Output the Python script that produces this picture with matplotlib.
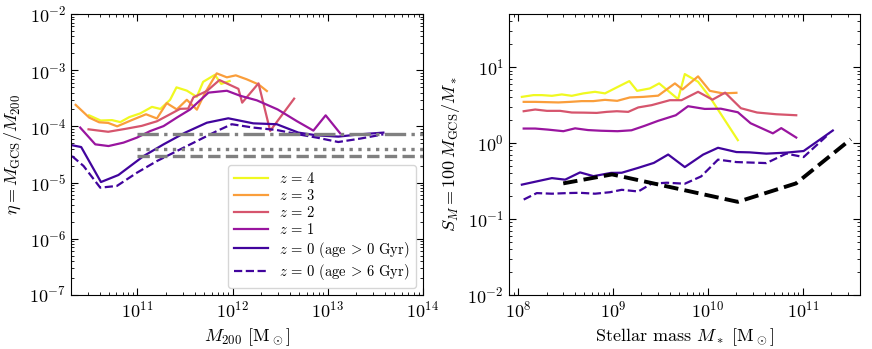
import numpy as np
import matplotlib
matplotlib.use("Agg")
import matplotlib.pyplot as plt

plt.rcParams['font.family'] = 'serif'
plt.rcParams['font.serif'] = ['cmr10']
plt.rcParams['mathtext.fontset'] = 'cm'
plt.rcParams['axes.formatter.use_mathtext'] = True
plt.rcParams['axes.unicode_minus'] = False

# ---- left panel: eta vs M200 ----
z4_m200 = [3.1e10, 4.1e10, 5.4e10, 6.6e10, 8.2e10, 1.07e11, 1.42e11, 1.74e11, 2.2e11,
           2.57e11, 3.3e11, 4.2e11, 4.9e11, 6.5e11, 7.6e11, 9.3e11]
z4_eta = [1.57e-4, 1.27e-4, 1.29e-4, 1.19e-4, 1.46e-4, 1.7e-4, 2.22e-4, 2.04e-4, 2.96e-4,
          4.94e-4, 4.32e-4, 3.35e-4, 6.2e-4, 8.25e-4, 5.7e-4, 6.4e-4]

z3_m200 = [2.24e10, 3.11e10, 3.96e10, 4.92e10, 6.12e10, 8.6e10, 1.23e11, 1.6e11, 2.03e11,
           2.59e11, 3.3e11, 4.21e11, 5.14e11, 6.8e11, 8.7e11, 1.08e12, 1.41e12, 1.87e12, 2.29e12]
z3_eta = [2.41e-4, 1.43e-4, 1.18e-4, 1.15e-4, 1.0e-4, 1.28e-4, 1.64e-4, 1.38e-4, 2.59e-4,
          2.0e-4, 2.97e-4, 1.98e-4, 3.98e-4, 8.77e-4, 7.45e-4, 8.08e-4, 6.86e-4, 5.58e-4, 4.25e-4]

z2_m200 = [3.06e10, 4.92e10, 7.42e10, 1.11e11, 1.6e11, 2.2e11, 2.81e11, 3.41e11, 3.87e11,
           5.36e11, 7.27e11, 1.15e12, 1.26e12, 1.87e12, 2.48e12, 4.43e12]
z2_eta = [8.85e-5, 8.0e-5, 9.0e-5, 1.02e-4, 1.23e-4, 1.64e-4, 2.05e-4, 2.07e-4, 3.28e-4,
          4.25e-4, 6.67e-4, 4.65e-4, 2.64e-4, 5.82e-4, 8.3e-5, 3.11e-4]

z1_m200 = [2.5e10, 3.6e10, 4.96e10, 7.13e10, 9.86e10, 1.36e11, 1.88e11, 2.59e11, 3.58e11,
           5.57e11, 8.7e11, 1.2e12, 1.8e12, 2.97e12, 4.72e12, 7.06e12, 9.5e12, 1.35e13]
z1_eta = [9.5e-5, 4.78e-5, 4.46e-5, 5.13e-5, 6.3e-5, 8.24e-5, 1.01e-4, 1.43e-4, 2.0e-4,
          3.98e-4, 4.3e-4, 3.5e-4, 2.9e-4, 2.0e-4, 1.24e-4, 8.4e-5, 1.57e-4, 7.5e-5]

z0_m200 = [2.0e10, 2.56e10, 4.13e10, 6.3e10, 1.16e11, 1.88e11, 3.17e11, 5.36e11, 9.0e11,
           1.65e12, 2.91e12, 4.91e12, 7.66e12, 1.29e13, 2.18e13, 3.84e13]
z0_eta = [4.65e-5, 4.28e-5, 1.02e-5, 1.36e-5, 2.96e-5, 4.78e-5, 7.73e-5, 1.16e-4, 1.39e-4,
          1.13e-4, 1.09e-4, 7.73e-5, 6.92e-5, 6.56e-5, 7.21e-5, 7.73e-5]

z0old_m200 = [2.05e10, 2.71e10, 4.06e10, 6.08e10, 9.9e10, 1.6e11, 2.59e11, 4.21e11, 6.82e11,
              9.8e11, 1.65e12, 2.91e12, 4.91e12, 7.66e12, 1.29e13, 2.18e13, 3.84e13]
z0old_eta = [2.96e-5, 1.97e-5, 8.1e-6, 8.7e-6, 1.5e-5, 2.41e-5, 3.63e-5, 5.47e-5, 8.24e-5,
             1.09e-4, 9.5e-5, 8.6e-5, 7.2e-5, 6.3e-5, 5.26e-5, 6.04e-5, 7.2e-5]

# reference eta levels (grey horizontal lines)
ref_eta = [7.2e-5, 4.0e-5, 3.0e-5]
ref_styles = ['-.', ':', '--']
ref_mmin, ref_mmax = 1e11, 1e14

# ---- right panel: S_M vs stellar mass ----
z4_ms = [1.1e8, 1.46e8, 1.79e8, 2.28e8, 2.9e8, 3.69e8, 4.89e8, 6.48e8, 8.26e8, 1.1e9,
         1.49e9, 1.8e9, 2.45e9, 3.07e9, 4.86e9, 5.72e9, 7.89e9, 1.05e10, 2.07e10]
z4_sm = [4.05, 4.27, 4.27, 4.18, 4.36, 4.18, 4.5, 4.72, 4.5, 5.4,
         6.53, 4.86, 5.23, 6.09, 3.78, 8.08, 6.4, 4.02, 1.09]

z3_ms = [1.15e8, 1.52e8, 2.02e8, 2.67e8, 3.54e8, 4.7e8, 6.22e8, 8.26e8, 1.11e9, 1.51e9,
         2.09e9, 3.0e9, 4.5e9, 5.41e9, 7.89e9, 1.05e10, 1.44e10, 2.0e10]
z3_sm = [3.48, 3.48, 3.45, 3.42, 3.48, 3.56, 3.56, 3.7, 3.59, 3.98,
         4.05, 4.2, 6.09, 5.07, 7.54, 4.86, 4.5, 4.58]

z2_ms = [1.15e8, 1.52e8, 2.02e8, 2.78e8, 3.69e8, 4.97e8, 6.76e8, 8.61e8, 1.1e9, 1.45e9,
         1.85e9, 2.56e9, 3.26e9, 3.98e9, 5.28e9, 7.89e9, 1.12e10, 1.52e10, 2.23e10, 3.3e10,
         5.26e10, 8.53e10]
z2_sm = [2.62, 2.76, 2.65, 2.65, 2.52, 2.51, 2.49, 2.57, 2.62, 2.57,
         2.94, 3.15, 3.42, 3.66, 3.66, 4.72, 3.72, 4.6, 2.87, 2.52,
         2.39, 2.32]

z1_ms = [1.15e8, 1.52e8, 2.08e8, 3.01e8, 4.0e8, 5.47e8, 7.5e8, 1.12e9, 1.57e9, 2.15e9,
         3.0e9, 4.6e9, 6.19e9, 9.27e9, 1.37e10, 2.07e10, 2.82e10, 4.84e10, 5.93e10, 8.53e10]
z1_sm = [1.55, 1.55, 1.5, 1.43, 1.56, 1.48, 1.45, 1.43, 1.47, 1.68,
         1.96, 2.32, 3.05, 2.81, 2.83, 2.54, 1.82, 1.34, 1.57, 1.18]

z0_ms = [1.1e8, 1.61e8, 2.28e8, 3.14e8, 4.51e8, 6.25e8, 9.55e8, 1.24e9, 1.84e9, 2.7e9,
         3.82e9, 5.72e9, 8.91e9, 1.28e10, 2.0e10, 2.75e10, 4.13e10, 6.7e10, 1.02e11, 2.07e11]
z0_sm = [0.283, 0.314, 0.345, 0.329, 0.41, 0.366, 0.404, 0.406, 0.47, 0.547,
         0.705, 0.482, 0.703, 0.865, 0.76, 0.753, 0.724, 0.747, 0.784, 1.46]

z0old_ms = [1.15e8, 1.58e8, 2.28e8, 3.27e8, 4.51e8, 6.48e8, 9.33e8, 1.24e9, 1.85e9, 2.55e9,
            3.7e9, 5.72e9, 8.5e9, 1.28e10, 2.0e10, 4.13e10, 6.7e10, 1.02e11, 1.9e11]
z0old_sm = [0.18, 0.219, 0.215, 0.219, 0.221, 0.215, 0.225, 0.242, 0.23, 0.291,
            0.3, 0.291, 0.363, 0.604, 0.561, 0.544, 0.725, 0.653, 1.33]

obs_ms = [3e8, 9.8e8, 2.07e10, 8.5e10, 3.2e11]
obs_sm = [0.294, 0.386, 0.168, 0.294, 1.12]

labels = [r'$z\,=\,4$', r'$z\,=\,3$', r'$z\,=\,2$', r'$z\,=\,1$',
          r'$z\,=\,0$ (age$\,>\,$0 Gyr)', r'$z\,=\,0$ (age$\,>\,$6 Gyr)']
colors = plt.cm.plasma(np.linspace(1.0, 0.1, 5))


def style_axis(ax):
    ax.set_xscale('log')
    ax.set_yscale('log')
    ax.tick_params(which='both', direction='in', top=True, right=True, labelsize=13)
    ax.tick_params(which='major', length=5)
    ax.tick_params(which='minor', length=2.5)


def main():
    fig = plt.figure(figsize=(8.72, 3.49), dpi=100)
    ax1 = fig.add_axes([0.0814, 0.155, 0.4036, 0.805])
    ax2 = fig.add_axes([0.5834, 0.155, 0.4028, 0.805])

    left = [(z4_m200, z4_eta), (z3_m200, z3_eta), (z2_m200, z2_eta),
            (z1_m200, z1_eta), (z0_m200, z0_eta)]
    for (x, y), c, lab in zip(left, colors, labels):
        ax1.plot(x, y, color=c, lw=1.6, label=lab)
    ax1.plot(z0old_m200, z0old_eta, color=colors[-1], lw=1.6, ls='--', label=labels[-1])
    for lev, ls in zip(ref_eta, ref_styles):
        ax1.plot([ref_mmin, ref_mmax], [lev, lev], color='grey', lw=2.4, ls=ls)

    style_axis(ax1)
    ax1.set_xlim(2e10, 1e14)
    ax1.set_ylim(1e-7, 1e-2)
    ax1.set_xlabel(r'$M_{200}$ [M$_\odot$]', fontsize=13)
    ax1.set_ylabel(r'$\eta = M_{\rm GCS}/M_{200}$', fontsize=13)
    ax1.legend(loc='lower right', fontsize=10.5, handlelength=2.3, labelspacing=0.15)

    right = [(z4_ms, z4_sm), (z3_ms, z3_sm), (z2_ms, z2_sm),
             (z1_ms, z1_sm), (z0_ms, z0_sm)]
    for (x, y), c in zip(right, colors):
        ax2.plot(x, y, color=c, lw=1.6)
    ax2.plot(z0old_ms, z0old_sm, color=colors[-1], lw=1.6, ls='--')
    ax2.plot(obs_ms, obs_sm, color='black', lw=2.8, ls='--')

    style_axis(ax2)
    ax2.set_xlim(8e7, 4e11)
    ax2.set_ylim(1e-2, 50)
    ax2.set_xlabel(r'Stellar mass $M_*$ [M$_\odot$]', fontsize=13)
    ax2.set_ylabel(r'$S_M = 100\,M_{\rm GCS}/M_*$', fontsize=13)

    fig.savefig('out.png', dpi=100)


if __name__ == '__main__':
    main()
